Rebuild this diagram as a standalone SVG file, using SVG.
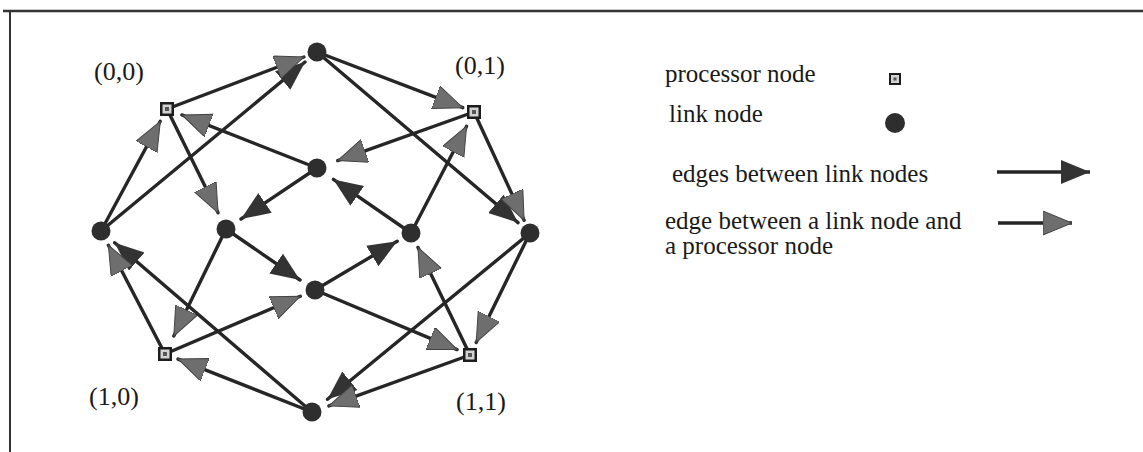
<svg xmlns="http://www.w3.org/2000/svg" width="1143" height="452" viewBox="0 0 1143 452">
<style>
text{font-family:"Liberation Serif","Times New Roman",serif;font-size:26px;fill:#1a1a1a}
.lg{font-size:25px}
.e{stroke:#262626;stroke-width:3.4;fill:none;stroke-linecap:round}
.ln{fill:#2e2e2e}
.pn{fill:#1c1c1c}
.pi{fill:#d2d2d2}
.pd{fill:#555}
</style>
<defs>
<marker id="dark" markerUnits="userSpaceOnUse" markerWidth="32" markerHeight="26" refX="29" refY="12" orient="auto">
<path d="M0,0 L29,12 L0,24 z" fill="#333"/>
</marker>
<marker id="gray" markerUnits="userSpaceOnUse" markerWidth="32" markerHeight="26" refX="29" refY="12" orient="auto">
<path d="M0,0 L29,12 L0,24 z" fill="#6e6e6e" stroke="#444" stroke-width="1"/>
</marker>
</defs>
<g id="frame">
<line x1="3" y1="11" x2="1143" y2="11" stroke="#333" stroke-width="2.5"/>
<line x1="10" y1="11" x2="10" y2="452" stroke="#333" stroke-width="2"/>
</g>
<g id="connectors">
<line class="e" x1="101" y1="231" x2="305" y2="62" marker-end="url(#dark)"/>
<line class="e" x1="317" y1="52" x2="518" y2="222.6" marker-end="url(#dark)"/>
<line class="e" x1="411" y1="233" x2="333.4" y2="179.4" marker-end="url(#dark)"/>
<line class="e" x1="317" y1="168" x2="241" y2="219" marker-end="url(#dark)"/>
<line class="e" x1="226" y1="229" x2="300" y2="280" marker-end="url(#dark)"/>
<line class="e" x1="315" y1="290" x2="397.2" y2="241.2" marker-end="url(#dark)"/>
<line class="e" x1="312" y1="412" x2="114.7" y2="242.7" marker-end="url(#dark)"/>
<line class="e" x1="530" y1="233" x2="327.5" y2="399.3" marker-end="url(#dark)"/>
<line class="e" x1="167" y1="109" x2="303.9" y2="57" marker-end="url(#gray)"/>
<line class="e" x1="317" y1="52" x2="462.8" y2="107.7" marker-end="url(#gray)"/>
<line class="e" x1="474" y1="112" x2="524.1" y2="220.3" marker-end="url(#gray)"/>
<line class="e" x1="474" y1="112" x2="337.7" y2="160.6" marker-end="url(#gray)"/>
<line class="e" x1="411" y1="233" x2="466.6" y2="126.2" marker-end="url(#gray)"/>
<line class="e" x1="317" y1="168" x2="181.9" y2="114.9" marker-end="url(#gray)"/>
<line class="e" x1="167" y1="109" x2="218.1" y2="212.8" marker-end="url(#gray)"/>
<line class="e" x1="101" y1="231" x2="160.3" y2="121.3" marker-end="url(#gray)"/>
<line class="e" x1="226" y1="229" x2="173.8" y2="336" marker-end="url(#gray)"/>
<line class="e" x1="165" y1="354" x2="300.3" y2="296.3" marker-end="url(#gray)"/>
<line class="e" x1="165" y1="354" x2="108.4" y2="245.2" marker-end="url(#gray)"/>
<line class="e" x1="312" y1="412" x2="178" y2="359.1" marker-end="url(#gray)"/>
<line class="e" x1="315" y1="290" x2="457.1" y2="349.6" marker-end="url(#gray)"/>
<line class="e" x1="470" y1="355" x2="418" y2="247.4" marker-end="url(#gray)"/>
<line class="e" x1="530" y1="233" x2="476.2" y2="342.4" marker-end="url(#gray)"/>
<line class="e" x1="470" y1="355" x2="328.9" y2="405.9" marker-end="url(#gray)"/>
</g>
<g id="link-T"><circle class="ln" cx="317" cy="52" r="9.5"/></g>
<g id="link-L"><circle class="ln" cx="101" cy="231" r="9.5"/></g>
<g id="link-R"><circle class="ln" cx="530" cy="233" r="9.5"/></g>
<g id="link-B"><circle class="ln" cx="312" cy="412" r="9.5"/></g>
<g id="link-C1"><circle class="ln" cx="317" cy="168" r="9.5"/></g>
<g id="link-CL"><circle class="ln" cx="226" cy="229" r="9.5"/></g>
<g id="link-CR"><circle class="ln" cx="411" cy="233" r="9.5"/></g>
<g id="link-C2"><circle class="ln" cx="315" cy="290" r="9.5"/></g>
<g id="proc-00"><rect class="pn" x="160" y="102" width="14" height="14"/><rect class="pi" x="162.5" y="104.5" width="9" height="9"/><rect class="pd" x="165" y="107" width="4" height="4"/><text x="94" y="80">(0,0)</text></g>
<g id="proc-01"><rect class="pn" x="467" y="105" width="14" height="14"/><rect class="pi" x="469.5" y="107.5" width="9" height="9"/><rect class="pd" x="472" y="110" width="4" height="4"/><text x="455" y="74">(0,1)</text></g>
<g id="proc-10"><rect class="pn" x="158" y="347" width="14" height="14"/><rect class="pi" x="160.5" y="349.5" width="9" height="9"/><rect class="pd" x="163" y="352" width="4" height="4"/><text x="89" y="405">(1,0)</text></g>
<g id="proc-11"><rect class="pn" x="463" y="348" width="14" height="14"/><rect class="pi" x="465.5" y="350.5" width="9" height="9"/><rect class="pd" x="468" y="353" width="4" height="4"/><text x="456" y="410">(1,1)</text></g>
<g id="legend">
<text class="lg" x="665" y="82">processor node</text>
<rect class="pn" x="889" y="73" width="12" height="12"/><rect class="pi" x="891" y="75" width="8" height="8"/><rect class="pd" x="893.5" y="77.5" width="3" height="3"/>
<text class="lg" x="669" y="122">link node</text>
<circle class="ln" cx="895" cy="123" r="10"/>
<text class="lg" x="672" y="182">edges between link nodes</text>
<line x1="997" y1="172" x2="1090" y2="172" stroke="#262626" stroke-width="3.4" marker-end="url(#dark)"/>
<text class="lg" x="665" y="229">edge between a link node and</text>
<text class="lg" x="665" y="254">a processor node</text>
<line x1="998" y1="223" x2="1072" y2="223" stroke="#262626" stroke-width="3.4" marker-end="url(#gray)"/>
</g>
</svg>
